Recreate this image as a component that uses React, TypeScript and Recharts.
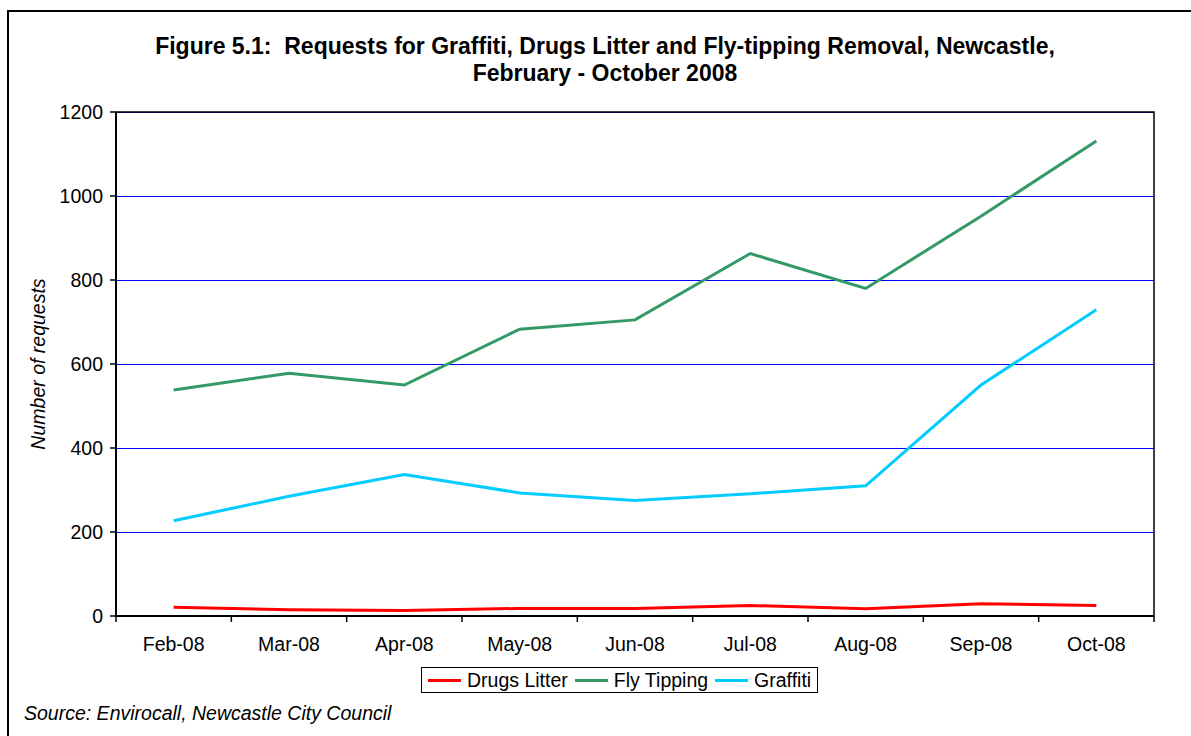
import React from "react";
import {
  CartesianGrid,
  Legend,
  Line,
  LineChart,
  ReferenceArea,
  XAxis,
  YAxis,
} from "recharts";

const months = ["Feb-08", "Mar-08", "Apr-08", "May-08", "Jun-08", "Jul-08", "Aug-08", "Sep-08", "Oct-08"];
const drugsLitter = [21, 15, 13, 18, 18, 25, 17, 29, 25];
const flyTipping = [538, 578, 550, 683, 705, 863, 780, 952, 1131];
const graffiti = [227, 285, 337, 293, 275, 291, 310, 550, 729];
const yTicks = [0, 200, 400, 600, 800, 1000, 1200];

const series = [
  { key: "drugs", name: "Drugs Litter", color: "#ff0000", values: drugsLitter },
  { key: "fly", name: "Fly Tipping", color: "#339966", values: flyTipping },
  { key: "graffiti", name: "Graffiti", color: "#00ccff", values: graffiti },
];

const WIDTH = 1191;
const HEIGHT = 736;
const LEGEND_H = 26;
// the legend's own height is added to the bottom offset by recharts
const MARGIN = { top: 112, right: 37, bottom: 80 - LEGEND_H, left: 56 };
const Y_AXIS_W = 60;
const PLOT_W = WIDTH - MARGIN.left - Y_AXIS_W - MARGIN.right;
const BAND = PLOT_W / months.length;
const FONT = "'Liberation Sans', Arial, sans-serif";

// each month sits in the middle of its slot, tick marks fall on the slot edges
const data = months.map((month, i) => {
  const row: Record<string, string | number> = { month, slot: i + 0.5 };
  series.forEach((s) => {
    row[s.key] = s.values[i];
  });
  return row;
});
const slotEdges = months.map((_, i) => i).concat(months.length);

function MonthTick(props: any) {
  const { x, y, payload } = props;
  if (payload.value >= months.length) return <g />;
  return (
    <text
      x={x + BAND / 2}
      y={y}
      dy="0.71em"
      textAnchor="middle"
      fill="#000"
      fontSize={19.5}
      fontFamily={FONT}
    >
      {months[payload.value]}
    </text>
  );
}

function LegendBox() {
  return (
    <div
      style={{
        display: "flex",
        alignItems: "center",
        border: "1px solid #000",
        background: "#fff",
        height: LEGEND_H,
        padding: "0 6px 0 6px",
        boxSizing: "border-box",
        fontFamily: FONT,
        fontSize: 19.5,
        color: "#000",
        whiteSpace: "nowrap",
      }}
    >
      {series.map((s, i) => (
        <span
          key={s.key}
          style={{ display: "flex", alignItems: "center", marginRight: i < series.length - 1 ? 7 : 0 }}
        >
          <span style={{ display: "inline-block", width: 33, height: 3, background: s.color, marginRight: 6 }} />
          {s.name}
        </span>
      ))}
    </div>
  );
}

export default function App() {
  return (
    <div
      style={{
        position: "absolute",
        left: 0,
        top: 0,
        width: WIDTH,
        height: HEIGHT,
        background: "#fff",
        overflow: "hidden",
        fontFamily: FONT,
      }}
    >
      <div
        style={{
          position: "absolute",
          left: 7,
          top: 10,
          width: WIDTH,
          height: HEIGHT,
          borderLeft: "2px solid #000",
          borderTop: "2px solid #000",
        }}
      />
      <div
        style={{
          position: "absolute",
          left: 0,
          top: 33,
          width: 1210,
          textAlign: "center",
          fontWeight: "bold",
          fontSize: 23,
          lineHeight: "27px",
          whiteSpace: "pre",
        }}
      >
        {"Figure 5.1:  Requests for Graffiti, Drugs Litter and Fly-tipping Removal, Newcastle,\nFebruary - October 2008"}
      </div>

      <LineChart width={WIDTH} height={HEIGHT} data={data} margin={MARGIN}>
        <CartesianGrid
          horizontal
          vertical={false}
          stroke="#0000ff"
          strokeWidth={1}
          shapeRendering="crispEdges"
        />
        <ReferenceArea x1={0} x2={months.length} y1={0} y2={1200} fill="none" stroke="#000" strokeWidth={1.5} />
        <XAxis
          type="number"
          dataKey="slot"
          domain={[0, months.length]}
          ticks={slotEdges}
          interval={0}
          tick={<MonthTick />}
          tickSize={6}
          tickMargin={15}
          axisLine={{ stroke: "#000", strokeWidth: 2 }}
          tickLine={{ stroke: "#000", strokeWidth: 1.5 }}
          height={40}
        />
        <YAxis
          type="number"
          domain={[0, 1200]}
          ticks={yTicks}
          interval={0}
          width={Y_AXIS_W}
          tickSize={6}
          tickMargin={7}
          axisLine={{ stroke: "#000", strokeWidth: 2 }}
          tickLine={{ stroke: "#000", strokeWidth: 1.5 }}
          tick={{ fill: "#000", fontSize: 19.5, fontFamily: FONT }}
          label={{
            value: "Number of requests",
            angle: -90,
            position: "left",
            offset: 18,
            style: { fill: "#000", fontSize: 19.5, fontStyle: "italic", fontFamily: FONT, textAnchor: "middle" },
          }}
        />
        {series.map((s) => (
          <Line
            key={s.key}
            type="linear"
            dataKey={s.key}
            name={s.name}
            stroke={s.color}
            strokeWidth={3}
            dot={false}
            activeDot={false}
            isAnimationActive={false}
          />
        ))}
        <Legend content={<LegendBox />} wrapperStyle={{ left: 421, top: 667, width: "auto", bottom: "auto" }} />
      </LineChart>

      <div
        style={{
          position: "absolute",
          left: 24,
          top: 701,
          fontSize: 19.5,
          fontStyle: "italic",
          lineHeight: "24px",
        }}
      >
        Source: Envirocall, Newcastle City Council
      </div>
    </div>
  );
}
